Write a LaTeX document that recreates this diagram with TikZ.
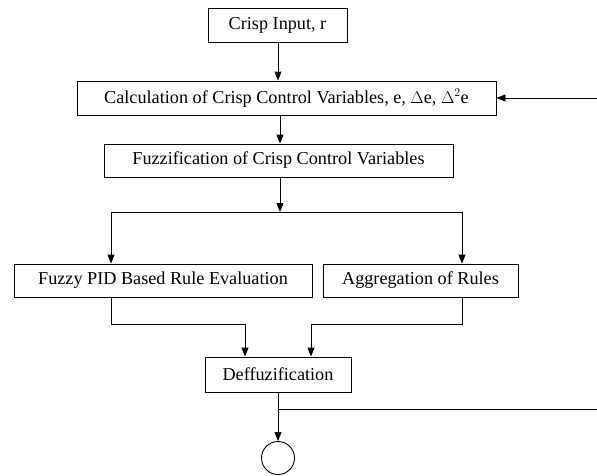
\documentclass[tikz,border=0pt]{standalone}
\usepackage{fontspec}
\setmainfont{Liberation Serif}
\usetikzlibrary{arrows.meta}
\begin{document}
\begin{tikzpicture}[x=1pt,y=-1pt,
  box/.style={draw,line width=0.9pt,inner sep=0pt,font=\fontsize{18.2}{20}\selectfont},
  conn/.style={line width=0.9pt},
  arr/.style={conn,-{Triangle[length=9pt,width=7pt]}}]
\useasboundingbox (0,0) rectangle (597,475);
\node[box,minimum width=139pt,minimum height=34pt] (crisp) at (277.5,25) {Crisp Input, r};
\node[box,minimum width=419pt,minimum height=34pt] (calc) at (286.5,98) {Calculation of Crisp Control Variables, e, $\Delta$e, $\Delta^{2}$e};
\node[box,minimum width=349pt,minimum height=33pt] (fuzz) at (278.5,160.5) {Fuzzification of Crisp Control Variables};
\node[box,minimum width=298pt,minimum height=33pt] (pid) at (163,280.5) {Fuzzy PID Based Rule Evaluation};
\node[box,minimum width=195pt,minimum height=33pt] (agg) at (420.5,280.5) {Aggregation of Rules};
\node[box,minimum width=146pt,minimum height=35pt] (deff) at (278,374.5) {Deffuzification};
\node[draw,line width=0.9pt,circle,minimum size=33pt,inner sep=0pt] (out) at (278,458) {};
\coordinate (junc) at (280,212);
\coordinate (jl) at (111,212);
\coordinate (jr) at (462,212);
\coordinate (fbtap) at (278,409);
\coordinate (fbend) at (597,409);
\coordinate (fbstart) at (597,98);
\draw[arr] (crisp.south -| 278,0) -- (calc.north -| 278,0);
\draw[arr] (calc.south -| 280,0) -- (fuzz.north -| 280,0);
\draw[arr] (fuzz.south -| junc) -- (junc);
\draw[conn] (jl) -- (jr);
\draw[arr] (jl) -- (pid.north -| jl);
\draw[arr] (jr) -- (agg.north -| jr);
\draw[arr] (pid.south -| jl) |- (245,324) -- (deff.north -| 245,0);
\draw[arr] (agg.south -| jr) |- (311,324) -- (deff.north -| 311,0);
\draw[arr] (deff.south -| out) -- (out.north);
\draw[conn] (fbtap) -- (fbend);
\draw[arr] (fbstart) -- (calc.east);
\end{tikzpicture}
\end{document}
